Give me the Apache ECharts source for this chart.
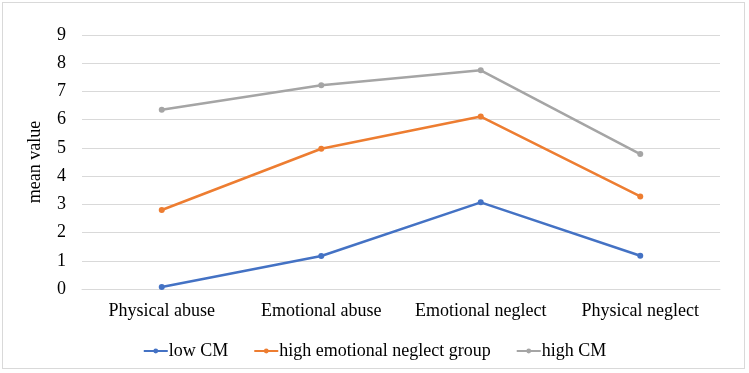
<!DOCTYPE html>
<html><head><meta charset="utf-8">
<script src="https://cdn.jsdelivr.net/npm/echarts@6/dist/echarts.min.js"></script>
<style>html,body{margin:0;padding:0;background:#fff}
#wrap{position:relative;width:749px;height:373px}
#c{width:749px;height:373px}
#frame{position:absolute;left:2px;top:2px;width:743px;height:367px;box-sizing:border-box;border:1px solid #d9d9d9;pointer-events:none}
</style>
</head><body><div id="wrap"><div id="c"></div><div id="frame"></div></div>
<script>
const categories = ['Physical abuse','Emotional abuse','Emotional neglect','Physical neglect'];
const lowCM = [0.07, 1.17, 3.07, 1.18];
const highENG = [2.8, 4.97, 6.11, 3.28];
const highCM = [6.35, 7.22, 7.75, 4.78];
const seriesNames = ['low CM','high emotional neglect group','high CM'];
const colors = ['#4472C4','#ED7D31','#A5A5A5'];
const font = '"Liberation Serif","Times New Roman",serif';
const chart = echarts.init(document.getElementById('c'));
const mk = (name, data, color) => ({
  name, type:'line', data, color,
  symbol:'circle', symbolSize:6,
  lineStyle:{width:2.5, color}, itemStyle:{color}
});
chart.setOption({
  animation:false,
  grid:{left:82, right:29, top:35, bottom:84, containLabel:false},
  legend:{top:337, left:'center', itemWidth:24, itemHeight:6, itemGap:25,
    textStyle:{fontFamily:font, fontSize:18, color:'#000', padding:[0,0,0,-4]},
    data:seriesNames},
  xAxis:{type:'category', data:categories, boundaryGap:true,
    axisLine:{lineStyle:{color:'#d9d9d9'}}, axisTick:{show:false},
    axisLabel:{fontFamily:font, fontSize:18, color:'#000', margin:13, interval:0}},
  yAxis:{type:'value', min:0, max:9, interval:1,
    name:'mean value', nameLocation:'middle', nameGap:38,
    nameTextStyle:{fontFamily:font, fontSize:18, color:'#000'},
    axisLine:{show:false}, axisTick:{show:false},
    splitLine:{lineStyle:{color:'#d9d9d9'}},
    axisLabel:{fontFamily:font, fontSize:18, color:'#000', margin:16}},
  series:[mk(seriesNames[0], lowCM, colors[0]), mk(seriesNames[1], highENG, colors[1]), mk(seriesNames[2], highCM, colors[2])]
});
</script></body></html>
